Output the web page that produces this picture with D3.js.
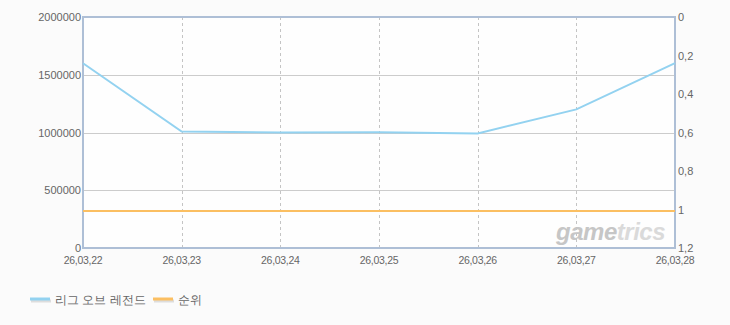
<!DOCTYPE html>
<html>
<head>
<meta charset="utf-8">
<script src="https://cdn.jsdelivr.net/npm/d3@7"></script>
<style>
  body { margin: 0; background: #fbfbfb; }
  text { font-family: "Liberation Sans", Arial, sans-serif; }
</style>
</head>
<body>
<script>
// chart data
const dates = ["26.03.22", "26.03.23", "26.03.24", "26.03.25", "26.03.26", "26.03.27", "26.03.28"];
const players = [1600000, 1008000, 1000000, 1002000, 992000, 1200000, 1600000];
const ranks = [1, 1, 1, 1, 1, 1, 1];
const leftTicks = [0, 500000, 1000000, 1500000, 2000000];
const rightTicks = [0, 0.2, 0.4, 0.6, 0.8, 1, 1.2];
const seriesNames = ["리그 오브 레전드", "순위"];

const width = 730;
const height = 325;
const margin = { top: 17, right: 55, bottom: 77, left: 83 };

const svg = d3.select('body').append('svg')
    .attr("width", width)
    .attr("height", height);

const x = d3.scalePoint()
    .domain(dates)
    .range([margin.left, width - margin.right]);

const y = d3.scaleLinear()
    .domain([0, 2000000])
    .range([height - margin.bottom, margin.top]);

const yRank = d3.scaleLinear()
    .domain([0, 1.2])
    .range([margin.top, height - margin.bottom]);

// plot background
svg.append("rect")
    .attr("x", margin.left)
    .attr("y", margin.top)
    .attr("width", width - margin.left - margin.right)
    .attr("height", height - margin.top - margin.bottom)
    .attr("fill", "#fefefe");

// horizontal grid
svg.append("g")
    .selectAll("line")
    .data(leftTicks.slice(1, -1))
    .enter().append("line")
    .attr("x1", margin.left)
    .attr("x2", width - margin.right)
    .attr("y1", d => Math.round(y(d)) + 0.5)
    .attr("y2", d => Math.round(y(d)) + 0.5)
    .attr("stroke", "#cccccc");

// vertical dashed grid
svg.append("g")
    .selectAll("line")
    .data(dates.slice(1, -1))
    .enter().append("line")
    .attr("x1", d => Math.round(x(d)) + 0.5)
    .attr("x2", d => Math.round(x(d)) + 0.5)
    .attr("y1", margin.top)
    .attr("y2", height - margin.bottom)
    .attr("stroke", "#c4c4c4")
    .attr("stroke-dasharray", "3,3");

// watermark
const wm = svg.append("text")
    .attr("x", 665)
    .attr("y", 240)
    .attr("text-anchor", "end")
    .attr("font-size", 24)
    .attr("font-style", "italic")
    .attr("font-weight", "bold")
    .attr("letter-spacing", -0.5);
wm.append("tspan").attr("fill", "#c6c6c6").text("game");
wm.append("tspan").attr("fill", "#dadada").text("trics");

// frame
svg.append("rect")
    .attr("x", margin.left)
    .attr("y", margin.top)
    .attr("width", width - margin.left - margin.right)
    .attr("height", height - margin.top - margin.bottom)
    .attr("fill", "none")
    .attr("stroke", "#aebfd6")
    .attr("stroke-width", 2);

// lines
const line = d3.line()
    .x((d, i) => x(dates[i]))
    .y(d => y(d));

svg.append("path")
    .datum(players)
    .attr("d", line)
    .attr("fill", "none")
    .attr("stroke", "#93d2f0")
    .attr("stroke-width", 2);

svg.append("path")
    .datum(ranks)
    .attr("d", d3.line().x((d, i) => x(dates[i])).y(d => Math.round(yRank(d)) + 1))
    .attr("fill", "none")
    .attr("stroke", "#fbbf62")
    .attr("stroke-width", 2);

// left axis labels
svg.append("g")
    .selectAll("text")
    .data(leftTicks)
    .enter().append("text")
    .attr("x", margin.left - 2)
    .attr("y", d => y(d) + 4)
    .attr("text-anchor", "end")
    .attr("font-size", 11)
    .attr("fill", "#666")
    .text(d => d);

// right axis labels
svg.append("g")
    .selectAll("text")
    .data(rightTicks)
    .enter().append("text")
    .attr("x", width - margin.right + 3)
    .attr("y", d => yRank(d) + 4)
    .attr("font-size", 11)
    .attr("fill", "#666")
    .text(d => String(d).replace(".", ","));

// x labels
svg.append("g")
    .selectAll("text")
    .data(dates)
    .enter().append("text")
    .attr("x", d => x(d))
    .attr("y", height - margin.bottom + 16)
    .attr("text-anchor", "middle")
    .attr("font-size", 10.5)
    .attr("letter-spacing", -0.3)
    .attr("fill", "#666")
    .text(d => d.replace(/\./g, ","));

// legend
const legendColors = ["#93d2f0", "#fbbf62"];
const legendX = [30, 153];
const legend = svg.append("g")
    .selectAll("g")
    .data(seriesNames)
    .enter().append("g")
    .attr("transform", (d, i) => `translate(${legendX[i]},299)`);

legend.append("line")
    .attr("x1", 1).attr("x2", 21)
    .attr("y1", 2).attr("y2", 2)
    .attr("stroke", "#ddd")
    .attr("stroke-width", 3);

legend.append("line")
    .attr("x1", 0).attr("x2", 20)
    .attr("y1", 0).attr("y2", 0)
    .attr("stroke", (d, i) => legendColors[i])
    .attr("stroke-width", 3);

legend.append("text")
    .attr("x", 25)
    .attr("y", 5)
    .attr("font-family", "Noto Sans CJK KR")
    .attr("font-size", 12)
    .attr("fill", "#666")
    .text(d => d);
</script>
</body>
</html>
